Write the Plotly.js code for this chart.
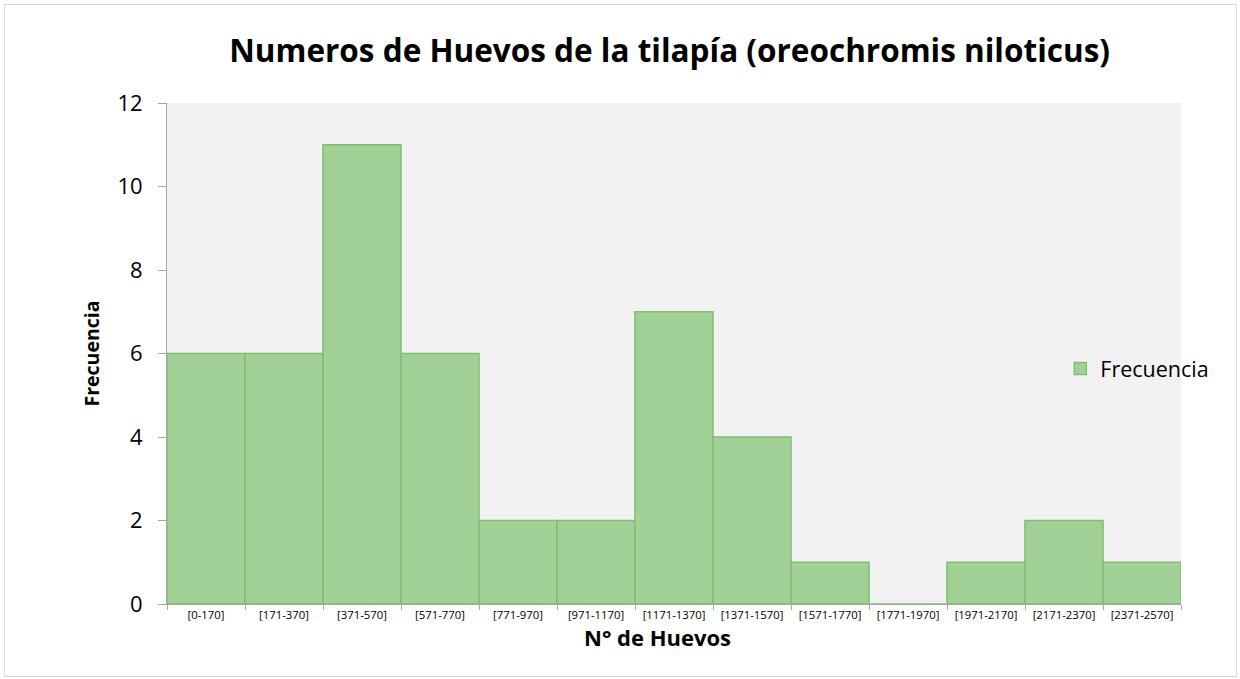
<!DOCTYPE html>
<html>
<head>
<meta charset="utf-8">
<script src="https://cdn.plot.ly/plotly-3.0.1.min.js"></script>
<style>
  html, body { margin: 0; padding: 0; background: #ffffff; }
  #wrap { position: relative; width: 1240px; height: 679px; }
  #chart { width: 1240px; height: 679px; }
  #frame { position: absolute; left: 4px; top: 4px; width: 1231px; height: 671px; border: 1px solid #d9d9d9; pointer-events: none; }
</style>
</head>
<body>
<div id="wrap">
  <div id="chart"></div>
  <div id="frame"></div>
</div>
<script>
const categories = ["[0-170]", "[171-370]", "[371-570]", "[571-770]", "[771-970]", "[971-1170]", "[1171-1370]", "[1371-1570]", "[1571-1770]", "[1771-1970]", "[1971-2170]", "[2171-2370]", "[2371-2570]"];
const frecuencia = [6, 6, 11, 6, 2, 2, 7, 4, 1, 0, 1, 2, 1];
const yTicks = [0, 2, 4, 6, 8, 10, 12];

const FONT = "'Open Sans', 'Noto Sans', sans-serif";

const trace = {
  type: "bar",
  x: categories,
  y: frecuencia,
  name: "Frecuencia",
  marker: { color: "#a1d196", line: { color: "#7fc06e", width: 1.5 } },
  showlegend: true
};

const layout = {
  width: 1240,
  height: 679,
  margin: { l: 167, r: 59, t: 103, b: 75 },
  paper_bgcolor: "#ffffff",
  plot_bgcolor: "#f2f2f2",
  bargap: 0,
  font: { family: FONT, color: "#000000" },
  title: {
    text: "<b>Numeros de Huevos de la tilapía (oreochromis niloticus)</b>",
    font: { size: 31.5, family: FONT, color: "#000000" },
    x: 0.54, xanchor: "center", y: 0.925, yanchor: "middle"
  },
  xaxis: {
    type: "category",
    tickson: "boundaries",
    ticks: "outside",
    ticklen: 5,
    tickcolor: "#a6a6a6",
    showline: true,
    linecolor: "#a6a6a6",
    linewidth: 1,
    showgrid: false,
    tickfont: { size: 11.3 },
    title: { text: "" }
  },
  yaxis: {
    range: [0, 12],
    tickvals: yTicks,
    ticks: "outside",
    ticklen: 8,
    tickcolor: "#a6a6a6",
    showline: true,
    linecolor: "#a6a6a6",
    linewidth: 1,
    showgrid: false,
    zeroline: false,
    tickfont: { size: 22 },
    ticklabelstandoff: 11,
    title: { text: "<b>Frecuencia</b>", font: { size: 19.5 }, standoff: 12 }
  },
  annotations: [{
    text: "<b>N° de Huevos</b>",
    xref: "paper", yref: "paper",
    x: 0.484, y: -0.065,
    xanchor: "center", yanchor: "middle",
    showarrow: false,
    font: { size: 22, family: FONT, color: "#000000" }
  }],
  legend: {
    x: 0.881, xanchor: "left",
    y: 0.47, yanchor: "middle",
    bgcolor: "rgba(0,0,0,0)",
    font: { size: 21.5 },
    itemwidth: 30
  }
};

Plotly.newPlot("chart", [trace], layout, { displayModeBar: false, staticPlot: true });
</script>
</body>
</html>
